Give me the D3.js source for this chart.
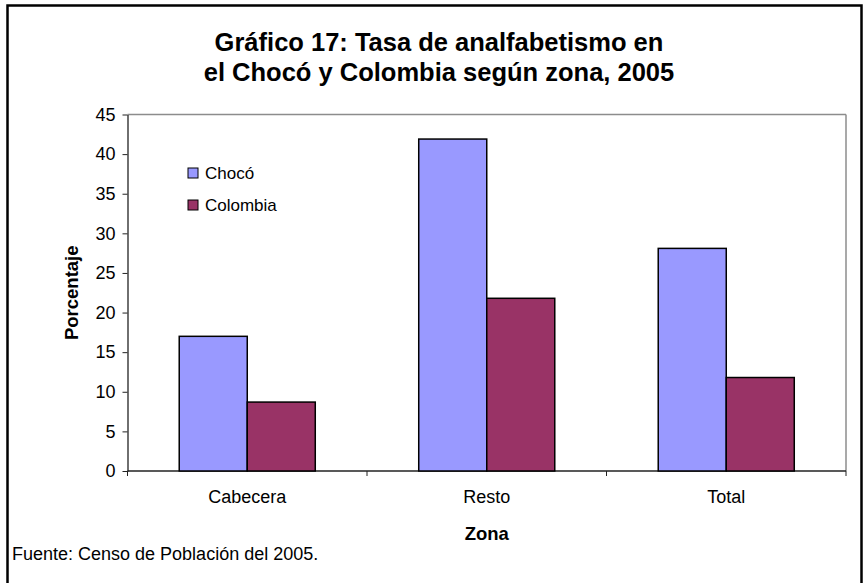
<!DOCTYPE html>
<html>
<head>
<meta charset="utf-8">
<script src="https://cdn.jsdelivr.net/npm/d3@7"></script>
<style>
  body { margin: 0; background: #fff; }
  text { font-family: "Liberation Sans", Arial, sans-serif; fill: #000; }
</style>
</head>
<body>
<div id="chart"></div>
<script>
// data
var zonas = ["Cabecera", "Resto", "Total"];
var series = ["Chocó", "Colombia"];
var choco = [17.0, 41.9, 28.1];
var colombia = [8.7, 21.8, 11.8];
var yTicks = [0, 5, 10, 15, 20, 25, 30, 35, 40, 45];
var colores = ["#9999FF", "#993366"];

// set the dimensions and margins of the graph
var W = 866, H = 583;
var margin = { top: 114.5, right: 20, bottom: 112, left: 127.5 },
    width = 846 - margin.left,
    height = 471 - margin.top;

var svg = d3.select("#chart")
    .append("svg")
    .attr("width", W)
    .attr("height", H);

// outer frame (bottom edge is outside the picture)
svg.append("rect")
    .attr("x", 7.5).attr("y", 5.5)
    .attr("width", 854).attr("height", 600)
    .style("fill", "none")
    .style("stroke", "#000")
    .style("stroke-width", 2.5);

// title
var title = svg.append("text")
    .attr("text-anchor", "middle")
    .style("font-weight", "bold")
    .style("font-size", "25.5px");
title.append("tspan").attr("x", 439).attr("y", 51).text("Gráfico 17: Tasa de analfabetismo en");
title.append("tspan").attr("x", 439).attr("y", 81).text("el Chocó y Colombia según zona, 2005");

var g = svg.append("g")
    .attr("transform", "translate(" + margin.left + "," + margin.top + ")");

// ---------------------------//
//       AXIS  AND SCALE      //
// ---------------------------//
var x = d3.scaleBand()
    .domain(zonas)
    .range([0, width])
    .paddingInner(0.432)
    .paddingOuter(0.216);

var xSub = d3.scaleBand()
    .domain(series)
    .range([0, x.bandwidth()]);

var y = d3.scaleLinear()
    .domain([0, 45])
    .range([height, 0]);

// plot area border: grey top and right
g.append("line")
    .attr("x1", 0).attr("x2", width).attr("y1", 0).attr("y2", 0)
    .style("stroke", "#8c8c8c").style("stroke-width", 1.5);
g.append("line")
    .attr("x1", width).attr("x2", width).attr("y1", 0).attr("y2", height)
    .style("stroke", "#8c8c8c").style("stroke-width", 1.5);

// Y axis
var yAxis = g.append("g")
    .call(d3.axisLeft(y).tickValues(yTicks).tickSize(5).tickPadding(7).tickSizeOuter(0));
yAxis.select(".domain").style("stroke", "#222").style("stroke-width", 1.3);
yAxis.selectAll(".tick line").style("stroke", "#222");
yAxis.selectAll("text")
    .style("font-size", "18px")
    .style("font-family", "'Liberation Sans', Arial, sans-serif")
    .style("fill", "#000");

// X axis: line, ticks at category boundaries, labels
g.append("line")
    .attr("x1", 0).attr("x2", width).attr("y1", height).attr("y2", height)
    .style("stroke", "#222").style("stroke-width", 1.3);

var bounds = d3.range(zonas.length + 1).map(function(i) { return i * x.step(); });
g.selectAll(".xtick")
    .data(bounds)
    .enter()
    .append("line")
    .attr("class", "xtick")
    .attr("x1", function(d) { return d; })
    .attr("x2", function(d) { return d; })
    .attr("y1", height)
    .attr("y2", height + 5)
    .style("stroke", "#222");

g.selectAll(".xlabel")
    .data(zonas)
    .enter()
    .append("text")
    .attr("class", "xlabel")
    .attr("x", function(d) { return x(d) + x.bandwidth() / 2; })
    .attr("y", height + 31.5)
    .attr("text-anchor", "middle")
    .style("font-size", "18px")
    .text(function(d) { return d; });

// axis titles
g.append("text")
    .attr("x", width / 2)
    .attr("y", height + 68.5)
    .attr("text-anchor", "middle")
    .style("font-weight", "bold")
    .style("font-size", "18.5px")
    .text("Zona");

g.append("text")
    .attr("transform", "translate(" + (77.5 - margin.left) + "," + (height / 2) + ") rotate(-90)")
    .attr("text-anchor", "middle")
    .style("font-weight", "bold")
    .style("font-size", "18.5px")
    .text("Porcentaje");

// ---------------------------//
//       BARS                 //
// ---------------------------//
var rows = zonas.map(function(z, i) {
    return { zona: z, values: [choco[i], colombia[i]] };
});

var grupos = g.selectAll(".grupo")
    .data(rows)
    .enter()
    .append("g")
    .attr("class", "grupo")
    .attr("transform", function(d) { return "translate(" + x(d.zona) + ",0)"; });

grupos.selectAll("rect")
    .data(function(d) { return d.values.map(function(v, j) { return { s: series[j], v: v, j: j }; }); })
    .enter()
    .append("rect")
    .attr("x", function(d) { return xSub(d.s); })
    .attr("y", function(d) { return y(d.v); })
    .attr("width", xSub.bandwidth())
    .attr("height", function(d) { return height - y(d.v); })
    .style("fill", function(d) { return colores[d.j]; })
    .style("stroke", "#000")
    .style("stroke-width", 1.5);

// ---------------------------//
//       LEGEND               //
// ---------------------------//
var legend = svg.selectAll(".leg")
    .data(series)
    .enter()
    .append("g")
    .attr("class", "leg")
    .attr("transform", function(d, i) { return "translate(188," + (168 + i * 32) + ")"; });

legend.append("rect")
    .attr("width", 10)
    .attr("height", 10)
    .style("fill", function(d, i) { return colores[i]; })
    .style("stroke", "#000")
    .style("stroke-width", 1);

legend.append("text")
    .attr("x", 17)
    .attr("y", 5)
    .attr("dy", "0.35em")
    .style("font-size", "17px")
    .text(function(d) { return d; });

// source note
svg.append("text")
    .attr("x", 12)
    .attr("y", 560)
    .style("font-size", "18px")
    .text("Fuente: Censo de Población del 2005.");
</script>
</body>
</html>
